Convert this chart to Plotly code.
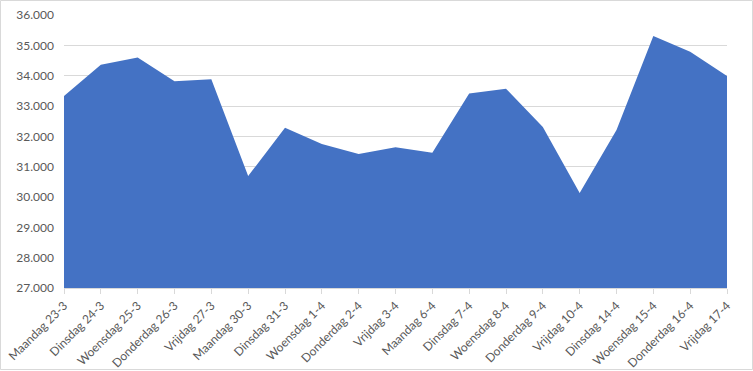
import plotly.graph_objects as go

categories = ["Maandag 23-3", "Dinsdag 24-3", "Woensdag 25-3", "Donderdag 26-3", "Vrijdag 27-3",
              "Maandag 30-3", "Dinsdag 31-3", "Woensdag 1-4", "Donderdag 2-4", "Vrijdag 3-4",
              "Maandag 6-4", "Dinsdag 7-4", "Woensdag 8-4", "Donderdag 9-4", "Vrijdag 10-4",
              "Dinsdag 14-4", "Woensdag 15-4", "Donderdag 16-4", "Vrijdag 17-4"]
values = [33330, 34360, 34600, 33820, 33880,
          30690, 32280, 31750, 31420, 31640,
          31460, 33410, 33570, 32310, 30130,
          32210, 35310, 34790, 33990]

W, H = 753, 371
L, R, T, B = 64, 26, 15, 83
pw, ph = W - L - R, H - T - B

fig = go.Figure(go.Scatter(
    x=categories, y=values, mode="lines", fill="tozeroy",
    line=dict(color="#4472C4", width=0), fillcolor="#4472C4",
    hoverinfo="x+y"))

font = dict(family="Lato, Open Sans, sans-serif", size=12, color="#595959")
fig.update_layout(
    width=W, height=H, margin=dict(l=L, r=R, t=T, b=B, autoexpand=False),
    paper_bgcolor="white", plot_bgcolor="white",
    separators=",.", showlegend=False, font=font,
    xaxis=dict(type="category", range=[0, len(categories) - 1], tickangle=-45,
               showgrid=False, showline=True, linecolor="#d9d9d9", linewidth=1,
               ticks="outside", ticklen=5, tickcolor="#d9d9d9", tickfont=font,
               automargin=False),
    yaxis=dict(range=[27000, 36000], dtick=1000, tickformat=",.0f",
               showgrid=True, gridcolor="#d9d9d9", gridwidth=1, zeroline=False,
               showline=False, ticklabelstandoff=9, tickfont=font,
               automargin=False),
    shapes=[dict(type="rect", xref="paper", yref="paper",
                 x0=(0.5 - L) / pw, x1=(W - 0.5 - L) / pw,
                 y0=(H - B - (H - 1.5)) / ph, y1=(H - B - 0.5) / ph,
                 line=dict(color="#d9d9d9", width=1), layer="below")],
)
fig.write_html("out.html")
